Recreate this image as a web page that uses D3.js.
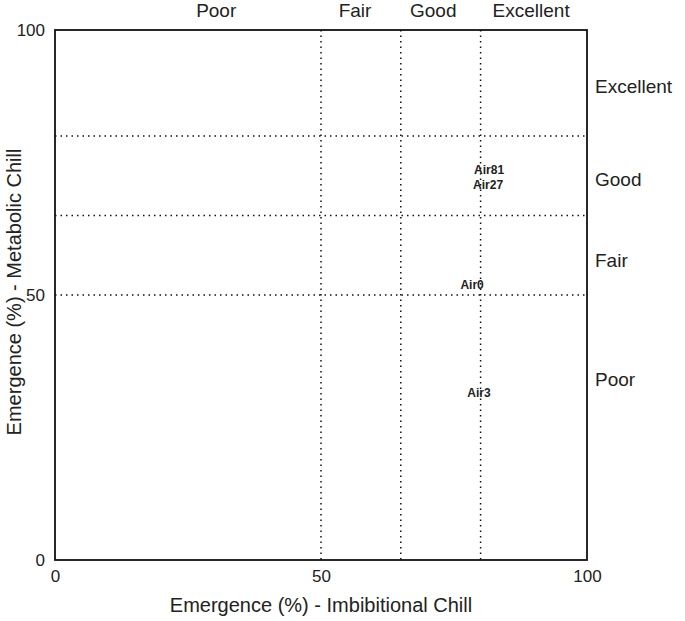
<!DOCTYPE html>
<html>
<head>
<meta charset="utf-8">
<script src="https://cdn.jsdelivr.net/npm/d3@7"></script>
<style>
  body { margin: 0; background: #fff; }
  text { font-family: "Liberation Sans", Arial, sans-serif; fill: #222; }
</style>
</head>
<body>
<div id="chart"></div>
<script>
// cultivar labels, plotted at (imbibitional, metabolic) emergence
var cultivars = ["Air81", "Air27", "Air0", "Air3"];
var imbibitional = [81.6, 81.4, 78.4, 79.7];
var metabolic = [73.6, 70.8, 51.9, 31.5];

// class boundaries + class names
var thresholds = [50, 65, 80];
var classes = ["Poor", "Fair", "Good", "Excellent"];
var topClassPos = [30.3, 56.4, 71.1, 89.5];
var rightClassPos = [34, 56.6, 71.9, 89.4];

var ticks = [0, 50, 100];

var margin = {top: 30, left: 55, right: 98, bottom: 61},
    width = 685 - margin.left - margin.right,
    height = 621 - margin.top - margin.bottom;

var svg = d3.select("#chart")
    .append("svg")
    .attr("width", 685)
    .attr("height", 621)
    .append("g")
    .attr("transform", "translate(" + margin.left + "," + margin.top + ")");

var x = d3.scaleLinear().domain([0, 100]).range([0, width]);
var y = d3.scaleLinear().domain([0, 100]).range([height, 0]);

// axes, no tick marks, frame drawn separately
var xAxis = svg.append("g")
    .attr("transform", "translate(0," + height + ")")
    .call(d3.axisBottom(x).tickValues(ticks).tickSize(0).tickPadding(10));
var yAxis = svg.append("g")
    .call(d3.axisLeft(y).tickValues(ticks).tickSize(0).tickPadding(10));
[xAxis, yAxis].forEach(function(a) {
    a.select(".domain").remove();
    a.selectAll("text").style("font-size", "17px").style("font-family", "Liberation Sans, Arial, sans-serif").attr("fill", "#222");
});

// dotted class boundaries
svg.selectAll(".vline")
    .data(thresholds)
    .enter().append("line")
    .attr("x1", function(d) { return x(d); })
    .attr("x2", function(d) { return x(d); })
    .attr("y1", 0)
    .attr("y2", height)
    .attr("stroke", "#111")
    .attr("stroke-width", 1.5)
    .attr("stroke-dasharray", "1.5,4");

svg.selectAll(".hline")
    .data(thresholds)
    .enter().append("line")
    .attr("x1", 0)
    .attr("x2", width)
    .attr("y1", function(d) { return y(d); })
    .attr("y2", function(d) { return y(d); })
    .attr("stroke", "#111")
    .attr("stroke-width", 1.5)
    .attr("stroke-dasharray", "1.5,4");

svg.append("rect")
    .attr("width", width)
    .attr("height", height)
    .attr("fill", "none")
    .attr("stroke", "#111")
    .attr("stroke-width", 1.8);

// class labels along top and right
svg.selectAll(".topclass")
    .data(classes)
    .enter().append("text")
    .attr("x", function(d, i) { return x(topClassPos[i]); })
    .attr("y", -13)
    .attr("text-anchor", "middle")
    .style("font-size", "19px")
    .text(function(d) { return d; });

svg.selectAll(".rightclass")
    .data(classes)
    .enter().append("text")
    .attr("x", width + 8)
    .attr("y", function(d, i) { return y(rightClassPos[i]); })
    .attr("dy", "0.35em")
    .style("font-size", "19px")
    .text(function(d) { return d; });

// cultivar labels
svg.selectAll(".cultivar")
    .data(cultivars)
    .enter().append("text")
    .attr("x", function(d, i) { return x(imbibitional[i]); })
    .attr("y", function(d, i) { return y(metabolic[i]); })
    .attr("dy", "0.35em")
    .attr("text-anchor", "middle")
    .style("font-size", "12px")
    .style("font-weight", "bold")
    .text(function(d) { return d; });

// axis titles
svg.append("text")
    .attr("x", width / 2)
    .attr("y", height + 52)
    .attr("text-anchor", "middle")
    .style("font-size", "20px")
    .text("Emergence (%) - Imbibitional Chill");

svg.append("text")
    .attr("transform", "translate(" + (-34) + "," + (height / 2 - 3) + ") rotate(-90)")
    .attr("text-anchor", "middle")
    .style("font-size", "20px")
    .text("Emergence (%) - Metabolic Chill");
</script>
</body>
</html>
